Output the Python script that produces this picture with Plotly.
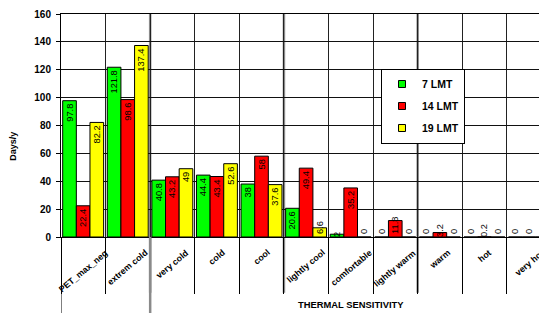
import plotly.graph_objects as go

categories = ["PET_max_neg", "extrem cold", "very cold", "cold", "cool", "lightly cool",
              "comfortable", "lightly warm", "warm", "hot", "very hot"]
series_names = ["7 LMT", "14 LMT", "19 LMT"]
lmt7 = [97.8, 121.8, 40.8, 44.4, 38, 20.6, 2, 0, 0, 0, 0]
lmt14 = [22.4, 98.6, 43.2, 43.4, 58, 49.4, 35.2, 11.8, 3.2, 0.2, 0]
lmt19 = [82.2, 137.4, 49, 52.6, 37.6, 6.6, 0, 0, 0, 0, 0]
y_ticks = [0, 20, 40, 60, 80, 100, 120, 140, 160]

colors = ["#00FF00", "#FF0000", "#FFFF00"]
series = [lmt7, lmt14, lmt19]
FONT = "Arial, Liberation Sans, sans-serif"

# the page body has an 8px margin, so the figure is drawn 8px in from the top-left
OFF = 8
W, H = 547 - OFF, 313 - OFF
ML, MR, MT, MB = 53, 0, 4, 76
plot_w = W - ML - MR
plot_h = H - MT - MB
ymax = 160
px_per_unit = plot_h / ymax
LABEL_SIZE = 9.3


def px_x(X):
    return (X - OFF - ML) / plot_w


def px_y(Y):
    return ((H - MB) - (Y - OFF)) / plot_h


def fmt(v):
    return "{:g}".format(v)


def fits(v):
    t = fmt(v)
    est = sum(2.6 if ch == "." else 5.2 for ch in t)
    return v * px_per_unit >= est + 6


idx = list(range(len(categories)))
bw = 0.306
offsets = [-0.462 + k * bw for k in range(3)]

fig = go.Figure()

# main bars with inside-end labels
for k in range(3):
    vals = series[k]
    fig.add_trace(go.Bar(
        x=idx, y=vals, offset=offsets[k], width=bw,
        marker=dict(color=colors[k], line=dict(color="black", width=1)),
        text=[fmt(v) if fits(v) else "" for v in vals],
        textposition=["inside" if fits(v) else "none" for v in vals],
        insidetextanchor="end", textangle=-90, constraintext="none",
        textfont=dict(family=FONT, size=LABEL_SIZE, color="black"),
        insidetextfont=dict(family=FONT, size=LABEL_SIZE, color="black"),
        showlegend=False, hoverinfo="skip", name=series_names[k],
    ))

# labels for short bars, anchored at the base
for k in range(3):
    vals = series[k]
    pos = []
    txt = []
    for v in vals:
        if fits(v):
            pos.append("none"); txt.append("")
        elif v == 0:
            pos.append("outside"); txt.append(fmt(v))
        else:
            pos.append("inside"); txt.append(fmt(v))
    fig.add_trace(go.Bar(
        x=idx, y=vals, offset=offsets[k], width=bw,
        marker=dict(color="rgba(0,0,0,0)", line=dict(width=0)),
        text=txt, textposition=pos,
        insidetextanchor="start", textangle=-90, constraintext="none",
        textfont=dict(family=FONT, size=LABEL_SIZE, color="black"),
        insidetextfont=dict(family=FONT, size=LABEL_SIZE, color="black"),
        outsidetextfont=dict(family=FONT, size=LABEL_SIZE, color="black"),
        cliponaxis=False,
        showlegend=False, hoverinfo="skip",
    ))

# legend proxies
for k in range(3):
    fig.add_trace(go.Scatter(
        x=[None], y=[None], mode="markers", name=series_names[k],
        legendgroup=series_names[k],
        marker=dict(symbol="square", size=7, color=colors[k],
                    line=dict(color="black", width=1)),
    ))

annotations = []
for i, c in enumerate(categories):
    annotations.append(dict(
        x=i, xref="x", y=0, yref="paper", yshift=-8,
        text=c, textangle=-40, xanchor="center", yanchor="top",
        showarrow=False, font=dict(family=FONT, size=8.8, color="black", weight="bold"),
    ))
annotations.append(dict(
    x=px_x(351), xref="paper", y=px_y(305), yref="paper",
    text="THERMAL SENSITIVITY", showarrow=False, xanchor="center", yanchor="middle",
    font=dict(family=FONT, size=9.4, color="black", weight="bold"),
))
annotations.append(dict(
    x=px_x(13), xref="paper", y=px_y(146), yref="paper",
    text="Days/y", textangle=-90, showarrow=False, xanchor="center", yanchor="middle",
    font=dict(family=FONT, size=9, color="black", weight="bold"),
))

n = len(categories)
shapes = []
# every third category divider appears as a softer, wider grey line
for b in [1.5, 4.5, 7.5]:
    shapes.append(dict(type="line", xref="x", yref="paper", x0=b, x1=b, y0=-0.25, y1=1,
                       layer="between", line=dict(color="#8a8a8a", width=2.5)))
# two dividers extend to the bottom of the chart
shapes.append(dict(type="line", xref="x", yref="paper", x0=-0.5, x1=-0.5, y0=0, y1=-0.4,
                   line=dict(color="black", width=1)))
shapes.append(dict(type="line", xref="x", yref="paper", x0=1.5, x1=1.5, y0=0, y1=-0.4,
                   line=dict(color="#8a8a8a", width=2.5)))

fig.update_layout(
    width=W, height=H,
    margin=dict(l=ML, r=MR, t=MT, b=MB, pad=0),
    plot_bgcolor="white", paper_bgcolor="white",
    barmode="overlay",
    font=dict(family=FONT, color="black"),
    annotations=annotations,
    shapes=shapes,
    legend=dict(
        x=px_x(381), y=px_y(67),
        xanchor="left", yanchor="top",
        bgcolor="white", bordercolor="black", borderwidth=1,
        font=dict(family=FONT, size=10.5, color="black", weight="bold"),
        tracegroupgap=3, itemwidth=30,
    ),
    xaxis=dict(
        range=[-0.5, n - 0.6],
        tickvals=[i - 0.5 for i in range(n + 1)],
        showticklabels=False, ticks="outside", ticklen=56, tickcolor="black", tickwidth=1,
        showgrid=True, gridcolor="#222", gridwidth=1,
        showline=True, linecolor="black", linewidth=1, mirror=True, zeroline=False,
    ),
    yaxis=dict(
        range=[0, ymax], tickvals=y_ticks,
        ticks="outside", ticklen=4, tickcolor="black", tickwidth=1,
        showgrid=True, gridcolor="#111", gridwidth=1,
        showline=True, linecolor="black", linewidth=1, zeroline=False,
        tickfont=dict(family=FONT, size=10, color="black", weight="bold"),
        ticklabelstandoff=3, ticklabeloverflow="allow",
    ),
)

fig.write_html("out.html")
